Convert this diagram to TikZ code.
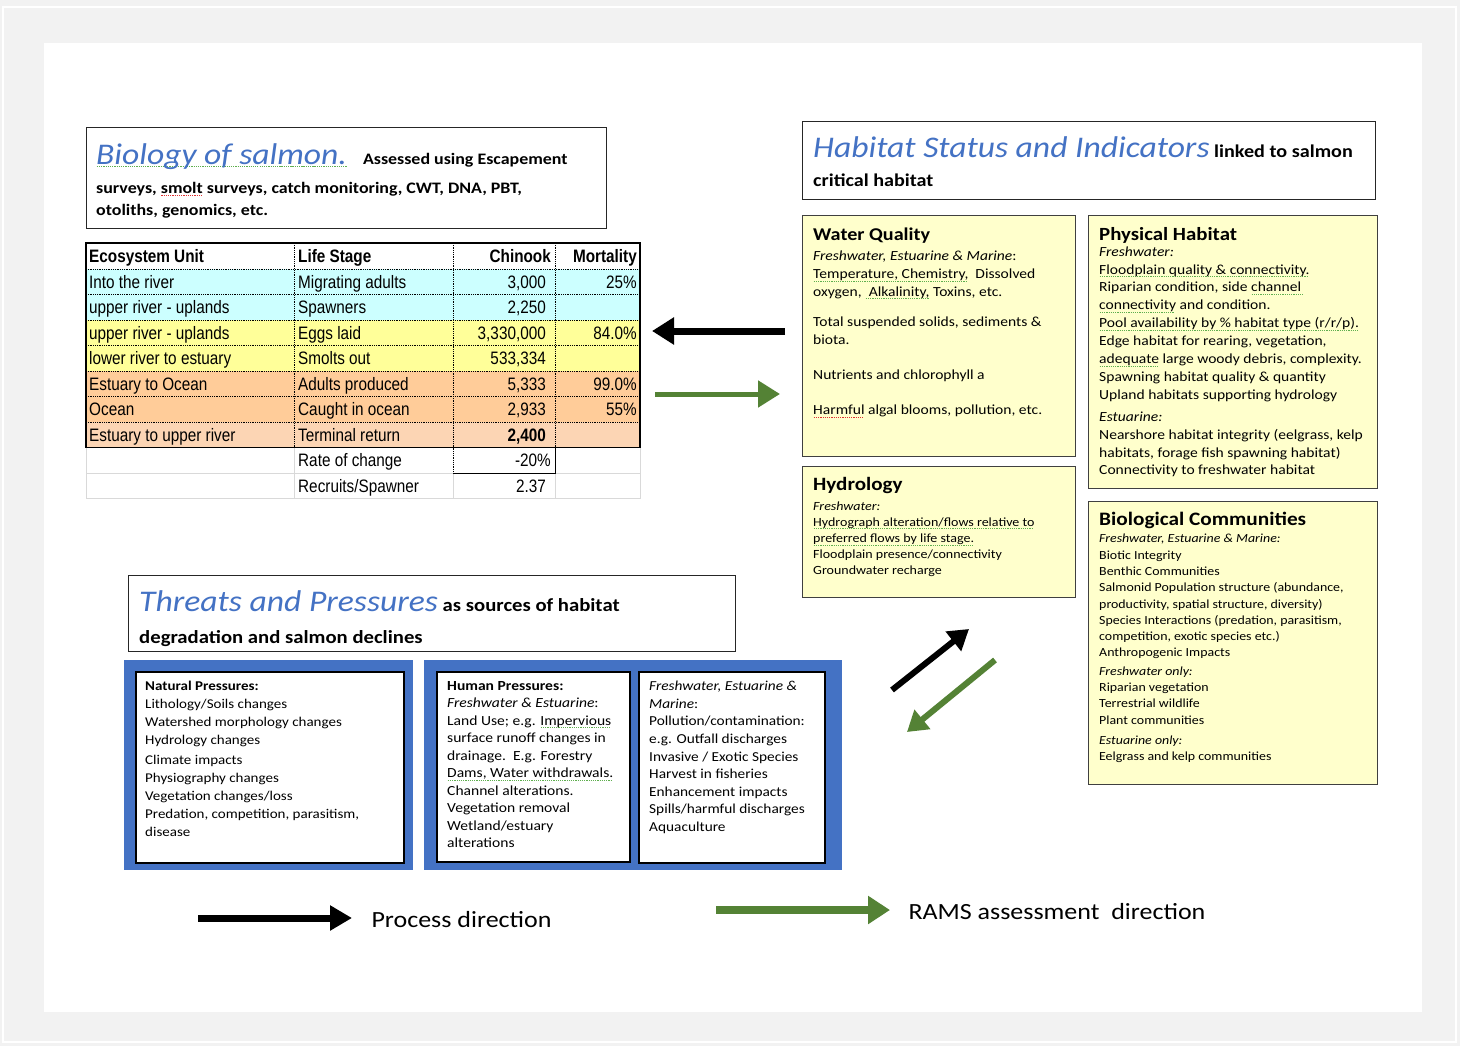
\documentclass[tikz,border=0pt]{standalone}
\usepackage{fontspec}
\setmainfont{Carlito}[FakeStretch=1.12]
\newfontfamily\tabfont[FakeStretch=0.85]{Liberation Sans}
\usetikzlibrary{arrows.meta}

\definecolor{titleblue}{HTML}{4472C4}
\definecolor{panelblue}{HTML}{4472C4}
\definecolor{habyellow}{HTML}{FFFFCC}
\definecolor{rowcyan}{HTML}{CCFFFF}
\definecolor{rowyellow}{HTML}{FFFF99}
\definecolor{roworange}{HTML}{FFCC99}
\definecolor{rowpeach}{HTML}{FCD5B4}
\definecolor{ramsgreen}{HTML}{548235}
\definecolor{pagegray}{HTML}{F2F2F2}
\definecolor{gridgray}{HTML}{D9D9D9}
\definecolor{spellgreen}{HTML}{5FAF4F}
\definecolor{spellred}{HTML}{E03030}

% spell-check squiggles
\newsavebox\sqbox
\newcommand\sqline[2]{\leavevmode\sbox\sqbox{#2}%
  \rlap{\color{#1}\raisebox{-3pt}{\hbox to\wd\sqbox{\leaders\hbox to 2.2pt{\hss\vrule width 1.2pt height 0.8pt depth 0pt\hss}\hfill}}}\usebox\sqbox}
\newcommand\gwave[1]{\sqline{spellgreen}{#1}}
\newcommand\rwave[1]{\sqline{spellred}{#1}}
\newcommand\fs[2]{\fontsize{#1}{#2}\selectfont}

\tikzset{
  titlebox/.style={draw=black!85, line width=1.2pt, fill=white, anchor=north west, inner sep=0pt},
  habbox/.style={draw=black!75, line width=1.2pt, fill=habyellow, anchor=north west, inner sep=0pt},
  bluebox/.style={fill=panelblue, anchor=north west, inner sep=0pt},
  whitebox/.style={draw=black, line width=1.5pt, fill=white, anchor=north west, inner sep=0pt},
  txt/.style={anchor=north west, inner sep=0pt, align=left},
  celltxt/.style={inner sep=0pt, font=\tabfont\fs{18}{20}},
  procarrow/.style={line width=7pt, -{Triangle[length=22pt,width=26pt]}},
  ramsarrow/.style={ramsgreen, line width=6pt, -{Triangle[length=22pt,width=26pt]}},
}

\begin{document}
\begin{tikzpicture}[x=1pt,y=-1pt]
  \useasboundingbox (0,0) rectangle (1460,1046);
  \fill[pagegray] (0,0) rectangle (1460,1046);
  \draw[white, line width=1.5pt] (3,7) rectangle (1456,1042);
  \fill[white] (44,43) rectangle (1422,1012);

  % biology
  \node[titlebox, minimum width=520pt, minimum height=101pt] (bio) at (86,127) {};
  \node[txt, font=\fs{16}{22}\bfseries] (biotxt) at (96,143)
    {{\fs{30}{32}\mdseries\itshape\color{titleblue}\gwave{Biology of salmon.}}\quad Assessed using Escapement\\[7pt]
     surveys, \rwave{smolt} surveys, catch monitoring, CWT, DNA, PBT,\\
     otoliths, genomics, etc.};

  % table
  \fill[rowcyan] (86,269) rectangle (640,320);
  \fill[rowyellow] (86,320) rectangle (640,371);
  \fill[roworange] (86,371) rectangle (640,422);
  \fill[rowpeach] (86,422) rectangle (640,447.5);
  \draw[gridgray, line width=0.8pt] (86,447.5) -- (86,498) -- (640,498) -- (640,447.5)
    (86,473) -- (640,473) (294,447.5) -- (294,498) (453,473) -- (453,498) (555,473) -- (555,498);
  \foreach \yl in {269,294.5,320,345.5,371,396.5,422}
    \draw[densely dotted, line width=0.8pt] (86,\yl) -- (640,\yl);
  \foreach \xl in {294,453,555}
    \draw[densely dotted, line width=0.8pt] (\xl,243) -- (\xl,447.5);
  \draw[densely dotted, line width=0.8pt] (453,447.5) -- (453,473);
  \draw[line width=1pt] (555,447.5) -- (555,473) -- (453,473);
  \draw[line width=1.6pt] (86,243) rectangle (640,447.5);

  \node[celltxt, anchor=base west] (hdeco) at (89,262) {\bfseries Ecosystem Unit};
  \node[celltxt, anchor=base west] (hdstage) at (298,262) {\bfseries Life Stage};
  \node[celltxt, anchor=base east] (hdnum) at (551,262) {\bfseries Chinook};
  \node[celltxt, anchor=base east] (hdmort) at (637,262) {\bfseries Mortality};
  \foreach \eco/\stage/\num/\mort [count=\r] in {
      {Into the river/Migrating adults/3,000/25\%},
      {upper river - uplands/Spawners/2,250/},
      {upper river - uplands/Eggs laid/3,330,000/84.0\%},
      {lower river to estuary/Smolts out/533,334/},
      {Estuary to Ocean/Adults produced/5,333/99.0\%},
      {Ocean/Caught in ocean/2,933/55\%},
      {Estuary to upper river/Terminal return/\textbf{2,400}/}}
  {
    \pgfmathsetmacro\yb{269+\r*25.5-6.5}
    \node[celltxt, anchor=base west] (eco\r) at (89,\yb) {\eco};
    \node[celltxt, anchor=base west] (stage\r) at (298,\yb) {\stage};
    \node[celltxt, anchor=base east] (num\r) at (546,\yb) {\num};
    \node[celltxt, anchor=base east] (mort\r) at (637,\yb) {\mort};
  }
  \node[celltxt, anchor=base west] (ratelbl) at (298,466.5) {Rate of change};
  \node[celltxt, anchor=base east] (rateval) at (551,466.5) {-20\%};
  \node[celltxt, anchor=base west] (rslbl) at (298,492) {Recruits/Spawner};
  \node[celltxt, anchor=base east] (rsval) at (546,492) {2.37};

  % arrows between table and habitat
  \coordinate (procin) at (785,331);
  \coordinate (procout) at (652,331);
  \draw[procarrow] (procin) -- (procout);
  \coordinate (ramsin) at (655,394);
  \coordinate (ramsout) at (780,394);
  \draw[ramsarrow, line width=5pt] (ramsin) -- (ramsout);

  % habitat
  \node[titlebox, minimum width=573pt, minimum height=78pt] (hab) at (802,121) {};
  \node[txt, font=\fs{18}{24}\bfseries] (habtxt) at (813,136)
    {{\fs{30}{32}\mdseries\itshape\color{titleblue}Habitat Status and Indicators} linked to salmon\\[5pt]
     critical habitat};

  \node[habbox, minimum width=273pt, minimum height=241pt] (wq) at (802,215) {};
  \node[txt, font=\fs{13.9}{17.6}] (wqtxt) at (813,228)
    {{\fs{18}{20}\bfseries Water Quality}\\[2.5pt]
     \itshape Freshwater, Estuarine \& Marine\upshape:\\
     \gwave{Temperature, Chemistry,}\ \ Dissolved\\
     oxygen, \gwave{\ Alkalinity,} Toxins, etc.\\[13pt]
     Total suspended solids, sediments \&\\
     biota.\\[18pt]
     Nutrients and chlorophyll a\\[17pt]
     \rwave{Harmful} algal blooms, pollution, etc.};

  \node[habbox, minimum width=289pt, minimum height=273pt] (phys) at (1088,215) {};
  \node[txt, font=\fs{13.9}{17.9}] (phystxt) at (1099,227)
    {{\fs{18.6}{20}\bfseries Physical Habitat}\\[-2pt]
     \textit{Freshwater:}\\
     \gwave{Floodplain quality \& connectivity.}\\
     Riparian condition, side \gwave{channel\ }\\
     \gwave{connectivity} and condition.\\
     \gwave{Pool availability by \% habitat type (r/r/p).}\\
     Edge habitat for rearing, vegetation,\\
     \gwave{adequate} large woody debris, complexity.\\
     Spawning habitat quality \& quantity\\
     Upland habitats supporting hydrology\\[4pt]
     \textit{Estuarine:}\\
     Nearshore habitat integrity (eelgrass, kelp\\
     habitats, forage fish spawning habitat)\\
     Connectivity to freshwater habitat};

  \node[habbox, minimum width=273pt, minimum height=131pt] (hydro) at (802,466) {};
  \node[txt, font=\fs{12.5}{16.2}] (hydrotxt) at (813,477)
    {{\fs{18.8}{20}\bfseries Hydrology}\\[3.5pt]
     \textit{Freshwater:}\\
     \gwave{Hydrograph alteration/flows relative to}\\
     \gwave{preferred flows by life stage.}\\
     Floodplain presence/connectivity\\
     Groundwater recharge};

  \node[habbox, minimum width=289pt, minimum height=283pt] (biocom) at (1088,501) {};
  \node[txt, font=\fs{12.4}{16.3}] (biocomtxt) at (1099,512)
    {{\fs{19}{20}\bfseries Biological Communities}\\[1pt]
     \textit{Freshwater, Estuarine \& Marine:}\\
     Biotic Integrity\\
     Benthic Communities\\
     Salmonid Population structure (abundance,\\
     productivity, spatial structure, diversity)\\
     Species Interactions (predation, parasitism,\\
     competition, exotic species etc.)\\
     Anthropogenic Impacts\\[2pt]
     \textit{Freshwater only:}\\
     Riparian vegetation\\
     Terrestrial wildlife\\
     Plant communities\\[4pt]
     \textit{Estuarine only:}\\
     Eelgrass and kelp communities};

  % threats
  \node[titlebox, minimum width=607pt, minimum height=76pt] (threat) at (128,575) {};
  \node[txt, font=\fs{18.5}{24}\bfseries] (threattxt) at (139,590)
    {{\fs{30}{32}\mdseries\itshape\color{titleblue}Threats and Pressures} as sources of habitat\\[8pt]
     degradation and salmon declines};

  \node[bluebox, minimum width=289pt, minimum height=210pt] (natblue) at (124,660) {};
  \node[whitebox, minimum width=268pt, minimum height=191pt] (nat) at (135,671) {};
  \node[txt, font=\fs{13.4}{17.8}] (nattxt) at (145,681)
    {\textbf{Natural Pressures:}\\
     Lithology/Soils changes\\
     Watershed morphology changes\\
     Hydrology changes\\[3pt]
     Climate impacts\\
     Physiography changes\\
     Vegetation changes/loss\\
     Predation, competition, parasitism,\\
     disease};

  \node[bluebox, minimum width=418pt, minimum height=210pt] (humblue) at (424,660) {};
  \node[whitebox, minimum width=193pt, minimum height=190pt] (hum) at (436,671) {};
  \node[txt, font=\fs{13.9}{17.5}] (humtxt) at (447,681)
    {\textbf{Human Pressures:}\\
     \textit{Freshwater \& Estuarine}:\\
     Land Use; e.g. \gwave{Impervious}\\
     surface runoff changes in\\
     drainage.\ \ E.g. Forestry\\
     \gwave{Dams, Water withdrawals.}\\
     Channel alterations.\\
     Vegetation removal\\
     Wetland/estuary\\
     alterations};
  \node[whitebox, minimum width=186pt, minimum height=191pt] (mar) at (638,671) {};
  \node[txt, font=\fs{13.7}{17.6}] (martxt) at (649,681)
    {\textit{Freshwater, Estuarine \&}\\
     \textit{Marine}:\\
     Pollution/contamination:\\
     e.g. Outfall discharges\\
     Invasive / Exotic Species\\
     Harvest in fisheries\\
     Enhancement impacts\\
     Spills/harmful discharges\\
     Aquaculture};

  % arrows between threats and habitat
  \coordinate (procup) at (892,690);
  \coordinate (procupend) at (969,629);
  \draw[procarrow, line width=6pt, -{Triangle[length=20pt,width=24pt]}] (procup) -- (procupend);
  \coordinate (ramsdn) at (995,660);
  \coordinate (ramsdnend) at (907,732);
  \draw[ramsarrow, -{Triangle[length=20pt,width=24pt]}] (ramsdn) -- (ramsdnend);

  % legend
  \coordinate (keyproc) at (198,918);
  \coordinate (keyprocend) at (352,918);
  \draw[procarrow, -{Triangle[length=22pt,width=24pt]}] (keyproc) -- (keyprocend);
  \node[anchor=west, font=\fs{23.2}{26}] (keyproctxt) at (368,920) {Process direction};
  \coordinate (keyrams) at (716,910);
  \coordinate (keyramsend) at (890,910);
  \draw[ramsarrow, line width=8pt, -{Triangle[length=22pt,width=27pt]}] (keyrams) -- (keyramsend);
  \node[anchor=west, font=\fs{23.2}{26}] (keyramstxt) at (905,912) {RAMS assessment\ \ direction};
\end{tikzpicture}
\end{document}
